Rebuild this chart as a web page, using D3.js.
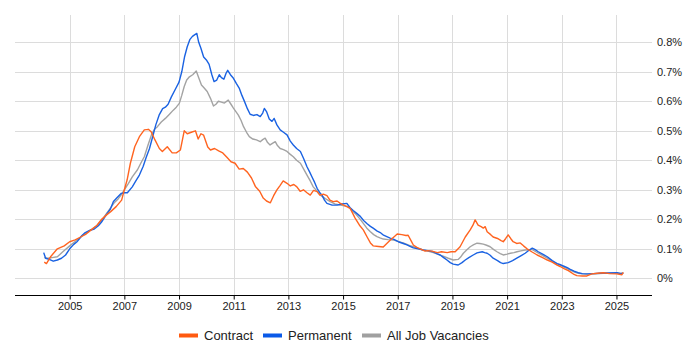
<!DOCTYPE html>
<html>
<head>
<meta charset="utf-8">
<script src="https://cdn.jsdelivr.net/npm/d3@7"></script>
<style>
  body { margin: 0; background: #fff; }
  svg { font-family: Arial, "Liberation Sans", sans-serif; }
</style>
</head>
<body>
<svg id="chart" width="700" height="350"></svg>
<script>
const yearTicks = [2005, 2007, 2009, 2011, 2013, 2015, 2017, 2019, 2021, 2023, 2025];
const pctTicks = [0, 0.1, 0.2, 0.3, 0.4, 0.5, 0.6, 0.7, 0.8];
const seriesNames = ['Contract', 'Permanent', 'All Job Vacancies'];

// [year, % of vacancies]
const contract = [
  [2004.07,0.055],[2004.15,0.05],[2004.3,0.073],[2004.55,0.10],[2004.8,0.11],[2005.0,0.124],
  [2005.2,0.13],[2005.4,0.14],[2005.6,0.15],[2005.8,0.165],[2006.0,0.18],[2006.15,0.198],
  [2006.35,0.215],[2006.5,0.226],[2006.7,0.243],[2006.9,0.265],[2007.0,0.30],[2007.1,0.333],
  [2007.22,0.39],[2007.38,0.446],[2007.55,0.48],[2007.73,0.503],[2007.88,0.505],[2007.98,0.497],
  [2008.12,0.469],[2008.28,0.44],[2008.39,0.43],[2008.57,0.446],[2008.75,0.425],[2008.9,0.425],
  [2009.05,0.435],[2009.19,0.50],[2009.3,0.49],[2009.45,0.495],[2009.6,0.50],[2009.7,0.472],
  [2009.8,0.49],[2009.9,0.485],[2010.05,0.445],[2010.15,0.435],[2010.3,0.44],[2010.45,0.432],
  [2010.6,0.425],[2010.75,0.41],[2010.9,0.395],[2011.05,0.39],[2011.2,0.37],[2011.35,0.372],
  [2011.5,0.36],[2011.65,0.34],[2011.8,0.31],[2011.95,0.295],[2012.08,0.272],[2012.2,0.262],
  [2012.34,0.256],[2012.46,0.28],[2012.58,0.30],[2012.7,0.315],[2012.81,0.33],[2012.95,0.322],
  [2013.07,0.313],[2013.2,0.318],[2013.31,0.31],[2013.43,0.295],[2013.55,0.30],[2013.68,0.29],
  [2013.8,0.282],[2013.92,0.298],[2014.05,0.294],[2014.15,0.282],[2014.28,0.285],[2014.41,0.28],
  [2014.52,0.265],[2014.64,0.26],[2014.78,0.262],[2014.9,0.254],[2015.1,0.245],[2015.26,0.237],
  [2015.44,0.204],[2015.6,0.18],[2015.74,0.164],[2015.88,0.14],[2016.0,0.12],[2016.1,0.11],
  [2016.3,0.108],[2016.47,0.106],[2016.6,0.118],[2016.73,0.13],[2016.88,0.142],[2016.98,0.15],
  [2017.15,0.148],[2017.3,0.145],[2017.38,0.146],[2017.5,0.125],[2017.57,0.113],[2017.7,0.105],
  [2017.82,0.10],[2018.0,0.092],[2018.08,0.094],[2018.25,0.092],[2018.45,0.087],[2018.6,0.09],
  [2018.81,0.087],[2018.95,0.09],[2019.1,0.09],[2019.28,0.107],[2019.47,0.14],[2019.65,0.164],
  [2019.75,0.18],[2019.83,0.198],[2019.94,0.18],[2020.05,0.175],[2020.13,0.17],[2020.2,0.175],
  [2020.27,0.158],[2020.4,0.148],[2020.49,0.14],[2020.65,0.135],[2020.78,0.128],[2020.86,0.124],
  [2020.95,0.135],[2021.04,0.147],[2021.13,0.135],[2021.22,0.124],[2021.35,0.118],[2021.48,0.12],
  [2021.6,0.11],[2021.73,0.10],[2021.9,0.09],[2022.1,0.079],[2022.3,0.07],[2022.47,0.062],
  [2022.65,0.055],[2022.83,0.045],[2022.94,0.04],[2023.1,0.032],[2023.24,0.026],[2023.31,0.022],
  [2023.45,0.013],[2023.55,0.009],[2023.75,0.008],[2023.92,0.008],[2024.1,0.015],[2024.3,0.017],
  [2024.52,0.019],[2024.75,0.016],[2025.01,0.015],[2025.2,0.012],[2025.25,0.02]
];

const permanent = [
  [2004.05,0.087],[2004.12,0.068],[2004.25,0.064],[2004.4,0.058],[2004.55,0.062],[2004.7,0.068],
  [2004.85,0.079],[2005.0,0.10],[2005.15,0.115],[2005.28,0.125],[2005.45,0.145],[2005.57,0.155],
  [2005.75,0.163],[2005.9,0.167],[2006.05,0.178],[2006.16,0.19],[2006.3,0.21],[2006.49,0.235],
  [2006.6,0.26],[2006.72,0.272],[2006.89,0.288],[2007.0,0.29],[2007.11,0.29],[2007.29,0.31],
  [2007.42,0.33],[2007.55,0.35],[2007.69,0.38],[2007.8,0.41],[2007.92,0.44],[2008.05,0.485],
  [2008.15,0.52],[2008.28,0.555],[2008.4,0.575],[2008.5,0.58],[2008.6,0.59],[2008.72,0.615],
  [2008.86,0.64],[2009.0,0.665],[2009.1,0.70],[2009.2,0.75],[2009.3,0.785],[2009.4,0.81],
  [2009.49,0.82],[2009.58,0.826],[2009.65,0.83],[2009.72,0.80],[2009.8,0.78],[2009.9,0.75],
  [2010.0,0.74],[2010.1,0.725],[2010.2,0.69],[2010.28,0.667],[2010.38,0.672],[2010.47,0.69],
  [2010.55,0.68],[2010.64,0.675],[2010.72,0.695],[2010.78,0.705],[2010.88,0.69],[2010.99,0.678],
  [2011.1,0.66],[2011.2,0.645],[2011.3,0.62],[2011.4,0.598],[2011.5,0.575],[2011.6,0.556],
  [2011.72,0.552],[2011.85,0.555],[2011.97,0.548],[2012.06,0.56],[2012.12,0.576],[2012.2,0.565],
  [2012.3,0.54],[2012.4,0.532],[2012.48,0.542],[2012.58,0.52],[2012.7,0.503],[2012.82,0.495],
  [2012.95,0.486],[2013.07,0.465],[2013.18,0.452],[2013.3,0.44],[2013.44,0.43],[2013.56,0.405],
  [2013.68,0.378],[2013.78,0.36],[2013.86,0.344],[2013.96,0.325],[2014.05,0.305],[2014.15,0.29],
  [2014.23,0.282],[2014.32,0.265],[2014.41,0.254],[2014.6,0.248],[2014.78,0.248],[2014.95,0.252],
  [2015.14,0.254],[2015.25,0.24],[2015.37,0.23],[2015.5,0.22],[2015.63,0.21],[2015.75,0.196],
  [2015.87,0.186],[2016.0,0.176],[2016.1,0.17],[2016.25,0.16],[2016.36,0.155],[2016.48,0.146],
  [2016.6,0.141],[2016.72,0.136],[2016.84,0.133],[2017.02,0.124],[2017.2,0.118],[2017.34,0.113],
  [2017.45,0.108],[2017.57,0.103],[2017.75,0.1],[2017.93,0.096],[2018.1,0.094],[2018.3,0.09],
  [2018.45,0.083],[2018.55,0.079],[2018.68,0.07],[2018.8,0.062],[2018.92,0.053],[2019.03,0.048],
  [2019.21,0.045],[2019.35,0.053],[2019.47,0.062],[2019.6,0.07],[2019.76,0.079],[2019.9,0.086],
  [2020.09,0.09],[2020.18,0.087],[2020.27,0.085],[2020.38,0.078],[2020.49,0.068],[2020.65,0.06],
  [2020.76,0.053],[2020.86,0.05],[2021.04,0.053],[2021.2,0.06],[2021.37,0.069],[2021.5,0.076],
  [2021.66,0.085],[2021.8,0.095],[2021.92,0.102],[2022.03,0.097],[2022.14,0.09],[2022.3,0.082],
  [2022.47,0.073],[2022.65,0.06],[2022.83,0.05],[2022.98,0.045],[2023.1,0.04],[2023.2,0.036],
  [2023.31,0.03],[2023.45,0.024],[2023.6,0.019],[2023.75,0.016],[2023.93,0.015],[2024.15,0.016],
  [2024.41,0.017],[2024.7,0.018],[2025.03,0.019],[2025.15,0.016],[2025.25,0.017]
];

const allJobs = [
  [2004.07,0.07],[2004.2,0.068],[2004.35,0.07],[2004.55,0.073],[2004.75,0.09],[2005.0,0.11],
  [2005.25,0.128],[2005.5,0.147],[2005.75,0.163],[2005.98,0.177],[2006.2,0.2],[2006.35,0.22],
  [2006.49,0.238],[2006.62,0.255],[2006.78,0.27],[2006.9,0.285],[2007.0,0.30],[2007.15,0.322],
  [2007.29,0.344],[2007.48,0.368],[2007.6,0.39],[2007.73,0.412],[2007.86,0.45],[2007.99,0.486],
  [2008.1,0.505],[2008.21,0.514],[2008.35,0.53],[2008.5,0.542],[2008.65,0.556],[2008.79,0.57],
  [2008.9,0.58],[2009.01,0.593],[2009.1,0.62],[2009.19,0.65],[2009.28,0.672],[2009.38,0.683],
  [2009.5,0.69],[2009.63,0.703],[2009.72,0.68],[2009.82,0.655],[2009.92,0.645],[2010.03,0.633],
  [2010.15,0.61],[2010.26,0.584],[2010.35,0.59],[2010.44,0.60],[2010.55,0.597],[2010.66,0.594],
  [2010.8,0.604],[2010.9,0.59],[2010.99,0.577],[2011.08,0.565],[2011.17,0.553],[2011.27,0.535],
  [2011.36,0.514],[2011.47,0.495],[2011.57,0.48],[2011.7,0.472],[2011.83,0.469],[2011.97,0.463],
  [2012.06,0.47],[2012.15,0.475],[2012.24,0.46],[2012.33,0.452],[2012.43,0.458],[2012.52,0.463],
  [2012.6,0.45],[2012.7,0.44],[2012.82,0.436],[2012.95,0.43],[2013.07,0.42],[2013.18,0.412],
  [2013.3,0.4],[2013.44,0.39],[2013.56,0.37],[2013.68,0.35],[2013.8,0.33],[2013.91,0.31],
  [2014.05,0.295],[2014.17,0.282],[2014.35,0.27],[2014.53,0.26],[2014.7,0.252],[2014.9,0.248],
  [2015.19,0.243],[2015.3,0.232],[2015.44,0.22],[2015.6,0.203],[2015.74,0.186],[2015.87,0.17],
  [2016.0,0.158],[2016.12,0.148],[2016.24,0.141],[2016.35,0.137],[2016.47,0.133],[2016.65,0.131],
  [2016.84,0.13],[2017.0,0.125],[2017.2,0.12],[2017.4,0.112],[2017.57,0.107],[2017.75,0.101],
  [2017.93,0.096],[2018.1,0.092],[2018.3,0.087],[2018.48,0.081],[2018.66,0.075],[2018.85,0.068],
  [2019.03,0.062],[2019.21,0.064],[2019.3,0.072],[2019.4,0.085],[2019.52,0.096],[2019.65,0.107],
  [2019.78,0.114],[2019.9,0.119],[2020.0,0.118],[2020.13,0.116],[2020.25,0.112],[2020.38,0.107],
  [2020.5,0.098],[2020.63,0.09],[2020.75,0.084],[2020.86,0.079],[2021.0,0.082],[2021.12,0.085],
  [2021.25,0.087],[2021.36,0.09],[2021.5,0.093],[2021.66,0.096],[2021.8,0.097],[2021.91,0.098],
  [2022.05,0.09],[2022.21,0.082],[2022.4,0.072],[2022.58,0.062],[2022.75,0.052],[2022.94,0.045],
  [2023.12,0.036],[2023.31,0.028],[2023.45,0.022],[2023.6,0.017],[2023.75,0.015],[2023.93,0.014],
  [2024.2,0.015],[2024.51,0.017],[2024.8,0.017],[2025.05,0.017],[2025.25,0.017]
];

const colors = ['#ff6420', '#1a62e2', '#a3a3a3'];
const legendColors = ['#ff5a10', '#0a5ae8', '#a0a0a0'];

const svg = d3.select('#chart');
const x = d3.scaleLinear().domain([2003, 2026.3]).range([15, 652]);
const y = d3.scaleLinear().domain([-0.0566, 0.8925]).range([295, 15]);

// grid
svg.append('g')
  .selectAll('line')
  .data(pctTicks)
  .enter()
  .append('line')
  .attr('x1', 15).attr('x2', 652)
  .attr('y1', d => Math.round(y(d)) + 0.5)
  .attr('y2', d => Math.round(y(d)) + 0.5)
  .attr('stroke', '#dcdcdc');

svg.append('g')
  .selectAll('line')
  .data(yearTicks)
  .enter()
  .append('line')
  .attr('x1', d => Math.round(x(d)) + 0.5)
  .attr('x2', d => Math.round(x(d)) + 0.5)
  .attr('y1', 15).attr('y2', 295)
  .attr('stroke', '#dcdcdc');

// x axis
const xAxis = svg.append('g')
  .attr('transform', 'translate(0,295.5)')
  .call(d3.axisBottom(x).tickValues(yearTicks).tickFormat(d3.format('d')).tickSize(4).tickSizeOuter(0));
xAxis.select('.domain').attr('stroke', '#000').attr('d', 'M15,0H652');
xAxis.selectAll('.tick line').attr('stroke', '#000');
xAxis.selectAll('text').attr('fill', '#222').attr('font-size', 11).attr('font-family', 'Arial, "Liberation Sans", sans-serif');

// y axis labels on right
const yAxis = svg.append('g')
  .attr('transform', 'translate(652,0)')
  .call(d3.axisRight(y).tickValues(pctTicks).tickFormat(d => d3.format('.1~f')(d) + '%').tickSize(0).tickPadding(5));
yAxis.select('.domain').remove();
yAxis.selectAll('text').attr('fill', '#222').attr('font-size', 11).attr('font-family', 'Arial, "Liberation Sans", sans-serif');

// lines
const line = d3.line().x(d => x(d[0])).y(d => y(d[1]));
const seriesData = [contract, permanent, allJobs];
const drawOrder = [2, 1, 0];
svg.append('g')
  .selectAll('path')
  .data(drawOrder)
  .enter()
  .append('path')
  .attr('d', i => line(seriesData[i]))
  .attr('fill', 'none')
  .attr('stroke', i => colors[i])
  .attr('stroke-width', 1.4)
  .attr('stroke-linejoin', 'round');

// legend
const legendX = [179, 263, 362];
const legend = svg.append('g')
  .selectAll('g')
  .data(seriesNames)
  .enter()
  .append('g')
  .attr('transform', (d, i) => `translate(${legendX[i]},335)`);
legend.append('rect')
  .attr('x', 0).attr('y', -1.5)
  .attr('width', 19).attr('height', 4)
  .attr('fill', (d, i) => legendColors[i]);
legend.append('text')
  .attr('x', 25).attr('y', 0)
  .attr('dy', '0.35em')
  .attr('font-size', 13)
  .attr('fill', '#222')
  .text(d => d);
</script>
</body>
</html>
